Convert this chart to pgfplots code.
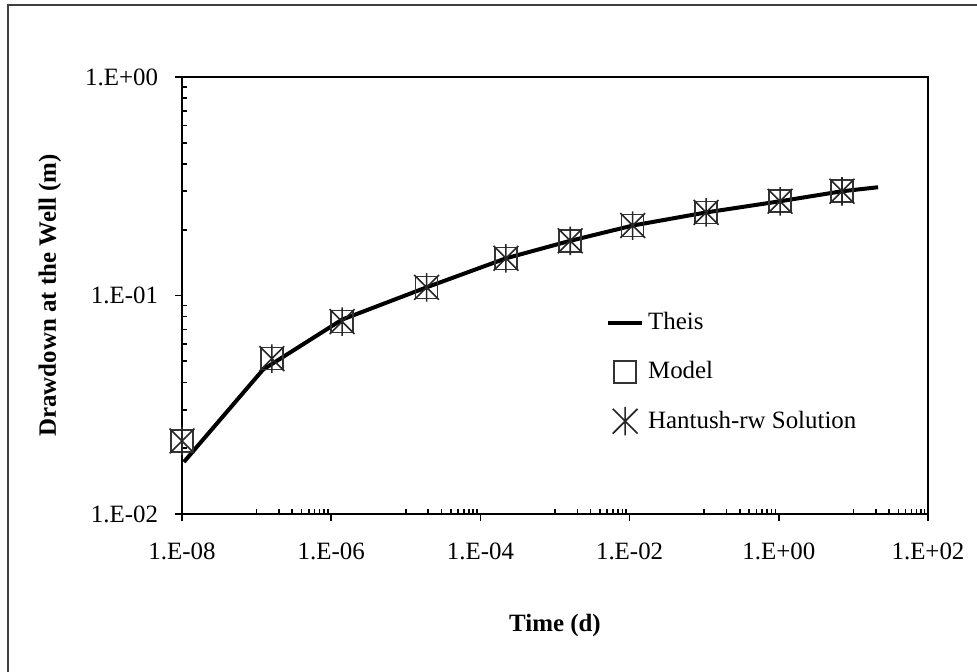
\documentclass[border=0pt]{standalone}
\usepackage{fontspec}
\setmainfont{Liberation Serif}
\usepackage{pgfplots}
\pgfplotsset{compat=1.18}

% cross with a vertical bar (Hantush-rw marker)
\pgfdeclareplotmark{xbar}{%
  \pgfpathmoveto{\pgfqpoint{-\pgfplotmarksize}{-\pgfplotmarksize}}%
  \pgfpathlineto{\pgfqpoint{\pgfplotmarksize}{\pgfplotmarksize}}%
  \pgfpathmoveto{\pgfqpoint{-\pgfplotmarksize}{\pgfplotmarksize}}%
  \pgfpathlineto{\pgfqpoint{\pgfplotmarksize}{-\pgfplotmarksize}}%
  \pgfpathmoveto{\pgfqpoint{0pt}{-1.15\pgfplotmarksize}}%
  \pgfpathlineto{\pgfqpoint{0pt}{1.15\pgfplotmarksize}}%
  \pgfusepathqstroke}

\pgfplotstableread{
t        s
1.0e-8   0.0216
1.6e-7   0.0514
1.4e-6   0.0760
1.9e-5   0.109
2.2e-4   0.148
1.6e-3   0.178
1.1e-2   0.209
0.106    0.240
1.04     0.270
7.03     0.300
}\pts

\begin{document}
\begin{tikzpicture}[x=1bp,y=1bp]
\useasboundingbox (0,0) rectangle (488.5,335.5);
% chart frame
\draw[line width=0.8bp, black!75] (4,-10) -- (4,333) -- (500,333);

\begin{axis}[
  at={(91bp,78.5bp)}, anchor=south west,
  scale only axis, width=373bp, height=218.5bp,
  xmode=log, ymode=log,
  xmin=1e-8, xmax=1e2, ymin=1e-2, ymax=1,
  axis line style={line width=1bp},
  every tick/.style={black, line width=0.8bp},
  tick align=inside,
  major tick length=-3.5bp,
  minor tick length=2.3bp,
  xtick={1e-8,1e-6,1e-4,1e-2,1,1e2},
  xticklabels={1.E-08,1.E-06,1.E-04,1.E-02,1.E+00,1.E+02},
  minor xtick={1e-7,2e-7,3e-7,4e-7,5e-7,6e-7,7e-7,8e-7,9e-7,
               1e-5,2e-5,3e-5,4e-5,5e-5,6e-5,7e-5,8e-5,9e-5,
               1e-3,2e-3,3e-3,4e-3,5e-3,6e-3,7e-3,8e-3,9e-3,
               0.1,0.2,0.3,0.4,0.5,0.6,0.7,0.8,0.9,
               10,20,30,40,50,60,70,80,90},
  ytick={0.01,0.1,1},
  yticklabels={1.E-02,1.E-01,1.E+00},
  minor ytick={0.02,0.03,0.04,0.05,0.06,0.07,0.08,0.09,
               0.2,0.3,0.4,0.5,0.6,0.7,0.8,0.9},
  xtick pos=bottom, ytick pos=left,
  ticklabel style={font=\fontsize{12.5}{14}\selectfont},
  xticklabel style={yshift=-11bp},
  yticklabel style={xshift=-8.5bp},
  xlabel={\textbf{Time (d)}},
  ylabel={\textbf{Drawdown at the Well (m)}},
  label style={font=\fontsize{12.5}{14}\selectfont},
  xlabel style={at={(axis description cs:0.5,-0.254)}, anchor=center},
  ylabel style={at={(axis description cs:-0.177,0.5)}, anchor=center},
  legend style={draw=none, fill=none, inner sep=0pt,
    at={(axis description cs:0.568,0.325)}, anchor=west,
    font=\fontsize{12.5}{14}\selectfont, row sep=10.5bp},
  legend cell align=left,
]
% Theis solution
\addplot[line width=2bp, black] coordinates {
  (1.06e-8,0.0173) (1.22e-7,0.0458) (1.4e-6,0.0776) (1.9e-5,0.109)
  (2.2e-4,0.148) (1.6e-3,0.178) (1.1e-2,0.209) (0.106,0.240)
  (1.04,0.270) (7.03,0.300) (21.4,0.313)
};
\addlegendentry{Theis}
% numerical model
\addplot[only marks, mark=square, mark size=5.5bp, black!80,
  mark options={line width=0.8bp}] table[x=t, y=s] {\pts};
\addlegendentry{Model}
% Hantush solution with well radius
\addplot[only marks, mark=xbar, mark size=6.2bp, black!85,
  mark options={line width=0.8bp}] table[x=t, y=s] {\pts};
\addlegendentry{Hantush-rw Solution}
\end{axis}
\end{tikzpicture}
\end{document}
